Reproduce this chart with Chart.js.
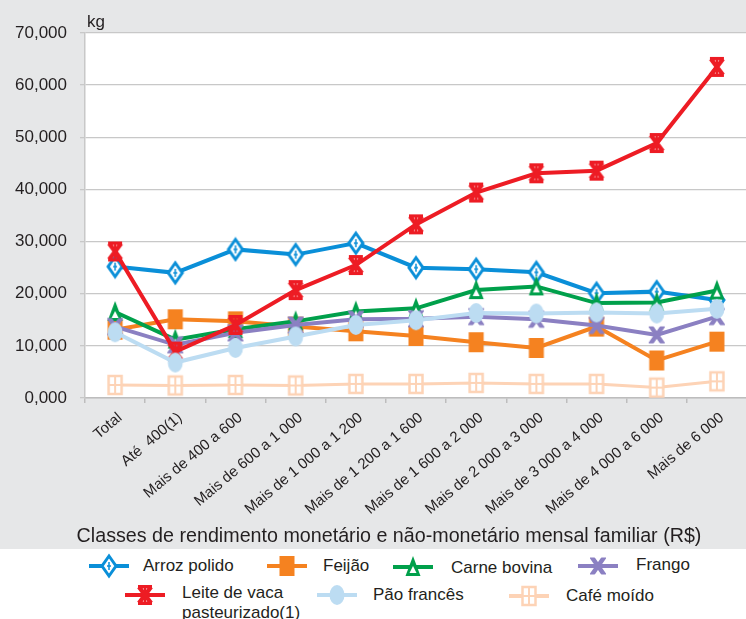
<!DOCTYPE html>
<html>
<head>
<meta charset="utf-8">
<script src="https://cdn.jsdelivr.net/npm/chart.js@4/dist/chart.umd.min.js"></script>
<style>
  html, body { margin: 0; padding: 0; background: #fff; overflow: hidden; }
  #wrap { position: relative; width: 746px; height: 619px; overflow: hidden; }
  #chart { position: absolute; left: 0; top: 0; }
  .lg-text { position: absolute; font: 17px "Liberation Sans", Arial, sans-serif; color: #231f20; line-height: 20px; white-space: pre; }
  .lg-mark { position: absolute; }
</style>
</head>
<body>
<div id="wrap">
  <canvas id="chart" width="760" height="549"></canvas>
  <div id="legend"></div>
</div>
<script>
// Data (kg)
const categories = ['Total', 'Até  400(1)', 'Mais de 400 a 600', 'Mais de 600 a 1 000', 'Mais de 1 000 a 1 200',
  'Mais de 1 200 a 1 600', 'Mais de 1 600 a 2 000', 'Mais de 2 000 a 3 000', 'Mais de 3 000 a 4 000',
  'Mais de 4 000 a 6 000', 'Mais de 6 000'];

const seriesNames = ['Arroz polido', 'Feijão', 'Carne bovina', 'Frango', 'Leite de vaca pasteurizado(1)', 'Pão francês', 'Café moído'];

const arroz  = [25200, 24000, 28500, 27500, 29700, 25000, 24700, 24100, 20100, 20400, 18800];
const feijao = [13100, 15100, 14700, 13700, 12800, 11900, 10700, 9600, 13700, 7200, 10800];
const carne  = [16500, 11200, 13200, 14700, 16600, 17200, 20700, 21400, 18200, 18300, 20600];
const frango = [13700, 10200, 12500, 14000, 15100, 15200, 15600, 15100, 13900, 12100, 15600];
const leite  = [28100, 8900, 14000, 20700, 25500, 33300, 39400, 43100, 43600, 48900, 63500];
const pao    = [12600, 6800, 9600, 11800, 14000, 14900, 16300, 16200, 16400, 16200, 17100];
const cafe   = [2500, 2400, 2500, 2400, 2700, 2700, 2900, 2700, 2700, 2000, 3200];

const yTickLabels = ['0,000', '10,000', '20,000', '30,000', '40,000', '50,000', '60,000', '70,000'];
const unitLabel = 'kg';
const axisTitle = 'Classes de rendimento monetário e não-monetário mensal familiar (R$)';

const seriesValues = [arroz, feijao, carne, frango, leite, pao, cafe];
const colors = ['#0a8fd8', '#f58220', '#00a04b', '#8b80c2', '#ed1c24', '#bcdcf2', '#fdd3b6'];
const markers = ['diamond', 'square', 'triangle', 'cross', 'star', 'ellipse', 'grid'];

const FONT = '"Liberation Sans", Arial, sans-serif';
const TEXT = '#231f20';

// draw one marker shape centred at cx, cy
function drawMarker(ctx, kind, color, cx, cy) {
  ctx.save();
  ctx.fillStyle = color;
  ctx.strokeStyle = color;
  switch (kind) {
    case 'diamond':
      ctx.beginPath();
      ctx.moveTo(cx, cy - 10); ctx.lineTo(cx + 7, cy); ctx.lineTo(cx, cy + 10); ctx.lineTo(cx - 7, cy);
      ctx.closePath();
      ctx.fillStyle = '#fff';
      ctx.fill();
      ctx.lineWidth = 3;
      ctx.stroke();
      ctx.lineWidth = 1.5;
      ctx.beginPath();
      ctx.moveTo(cx, cy - 4); ctx.lineTo(cx, cy + 4);
      ctx.moveTo(cx - 2, cy); ctx.lineTo(cx + 2, cy);
      ctx.stroke();
      break;
    case 'square':
      ctx.fillRect(cx - 7.5, cy - 10, 15, 20);
      break;
    case 'triangle':
      ctx.beginPath();
      ctx.moveTo(cx, cy - 11); ctx.lineTo(cx + 7.5, cy + 9); ctx.lineTo(cx - 7.5, cy + 9);
      ctx.closePath();
      ctx.fill();
      ctx.fillStyle = '#fff';
      ctx.beginPath();
      ctx.moveTo(cx, cy - 1); ctx.lineTo(cx + 3.5, cy + 6); ctx.lineTo(cx - 3.5, cy + 6);
      ctx.closePath();
      ctx.fill();
      break;
    case 'cross':
      ctx.beginPath();
      ctx.rect(cx - 8, cy - 8.5, 16, 17);
      ctx.clip();
      ctx.lineWidth = 4.5;
      ctx.beginPath();
      ctx.moveTo(cx - 7, cy - 10); ctx.lineTo(cx + 7, cy + 10);
      ctx.moveTo(cx + 7, cy - 10); ctx.lineTo(cx - 7, cy + 10);
      ctx.stroke();
      break;
    case 'star':
      ctx.lineWidth = 4.5;
      ctx.beginPath();
      ctx.moveTo(cx - 6, cy - 8); ctx.lineTo(cx + 6, cy + 8);
      ctx.moveTo(cx + 6, cy - 8); ctx.lineTo(cx - 6, cy + 8);
      ctx.stroke();
      ctx.fillRect(cx - 7, cy - 10, 14, 3.5);
      ctx.fillRect(cx - 7, cy + 6.5, 14, 3.5);
      ctx.lineWidth = 2;
      ctx.beginPath();
      ctx.moveTo(cx, cy - 9); ctx.lineTo(cx, cy + 9);
      ctx.stroke();
      break;
    case 'ellipse':
      ctx.beginPath();
      ctx.ellipse(cx, cy, 7.5, 10, 0, 0, Math.PI * 2);
      ctx.fill();
      break;
    case 'grid':
      ctx.fillStyle = '#fff';
      ctx.fillRect(cx - 6.5, cy - 9, 13, 18);
      ctx.lineWidth = 2.5;
      ctx.strokeRect(cx - 6.5, cy - 9, 13, 18);
      ctx.lineWidth = 2;
      ctx.beginPath();
      ctx.moveTo(cx, cy - 9); ctx.lineTo(cx, cy + 9);
      ctx.moveTo(cx - 6.5, cy); ctx.lineTo(cx + 6.5, cy);
      ctx.stroke();
      break;
  }
  ctx.restore();
}

function markerCanvas(kind, color, withLine) {
  const c = document.createElement('canvas');
  c.width = withLine ? 40 : 20;
  c.height = 26;
  const ctx = c.getContext('2d');
  if (withLine) {
    ctx.strokeStyle = color;
    ctx.lineWidth = 4;
    ctx.beginPath();
    ctx.moveTo(0, 13); ctx.lineTo(40, 13);
    ctx.stroke();
  }
  drawMarker(ctx, kind, color, c.width / 2, 13);
  return c;
}

// gray page, white plot area, unit label and axis title
const framePlugin = {
  id: 'frame',
  beforeDraw(chart) {
    const { ctx, chartArea: a, width, height } = chart;
    ctx.save();
    ctx.fillStyle = '#e6e7e8';
    ctx.fillRect(0, 0, width, height);
    ctx.fillStyle = '#fff';
    ctx.fillRect(a.left, a.top, a.right - a.left, a.bottom - a.top);
    ctx.restore();
  },
  afterDraw(chart) {
    const ctx = chart.ctx;
    ctx.save();
    ctx.fillStyle = TEXT;
    ctx.textBaseline = 'middle';
    ctx.textAlign = 'left';
    ctx.font = '17px ' + FONT;
    ctx.fillText(unitLabel, chart.chartArea.left + 2, 22);
    ctx.textAlign = 'center';
    ctx.font = '19.7px ' + FONT;
    ctx.fillText(axisTitle, 389, 537);
    ctx.restore();
  }
};

const datasets = seriesNames.map((name, i) => ({
  label: name,
  data: seriesValues[i],
  borderColor: colors[i],
  backgroundColor: colors[i],
  borderWidth: i === 6 ? 3 : 4,
  pointStyle: markerCanvas(markers[i], colors[i], false),
  pointRadius: 9,
  pointHoverRadius: 9,
  tension: 0,
  order: seriesNames.length - i
}));

new Chart(document.getElementById('chart'), {
  type: 'line',
  data: { labels: categories, datasets: datasets },
  options: {
    responsive: false,
    animation: false,
    events: [],
    layout: { padding: { top: 33, right: 5, left: 0, bottom: 0 } },
    plugins: { legend: { display: false }, tooltip: { enabled: false } },
    scales: {
      x: {
        offset: true,
        grid: { offset: true, drawOnChartArea: false, drawTicks: true, tickLength: 5, color: '#bdbdbd', lineWidth: 1.5 },
        border: { color: '#bdbdbd', width: 1.5 },
        ticks: {
          autoSkip: false, minRotation: 40, maxRotation: 40, padding: 6, labelOffset: 5,
          color: TEXT, font: { family: FONT, size: 15 }
        },
        afterFit(s) { s.height = 151; }
      },
      y: {
        min: 0,
        max: 70000,
        grid: { color: '#c8c8c8', lineWidth: 1.3, tickLength: 5 },
        border: { color: '#c8c8c8', width: 1.5 },
        ticks: {
          stepSize: 10000,
          padding: 13,
          color: TEXT,
          font: { family: FONT, size: 17 },
          callback: (v, i) => yTickLabels[i]
        },
        afterFit(s) { s.width = 85; }
      }
    }
  },
  plugins: [framePlugin]
});

// legend below the chart
const legendLabels = seriesNames.map(n => n.replace('vaca ', 'vaca\n'));
const legendPos = [[89, 566, 143, 556], [267, 566, 323, 556], [393, 567, 451, 558], [578, 566, 636, 555],
  [125, 595, 182, 583], [317, 595, 373, 585], [509, 596, 566, 586]];
const legend = document.getElementById('legend');
legendLabels.forEach((txt, i) => {
  const p = legendPos[i];
  const m = markerCanvas(markers[i], colors[i], true);
  m.className = 'lg-mark';
  m.style.left = p[0] + 'px';
  m.style.top = (p[1] - 13) + 'px';
  legend.appendChild(m);
  const t = document.createElement('div');
  t.className = 'lg-text';
  t.style.left = p[2] + 'px';
  t.style.top = p[3] + 'px';
  t.textContent = txt;
  legend.appendChild(t);
});
</script>
</body>
</html>
